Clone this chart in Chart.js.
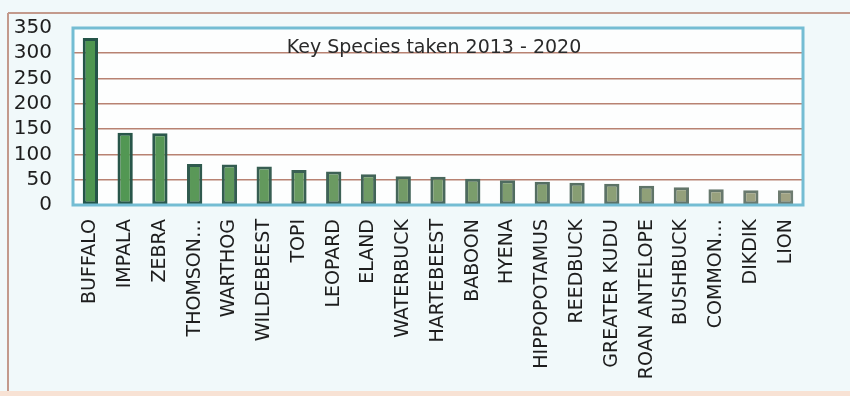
<!DOCTYPE html>
<html>
<head>
<meta charset="utf-8">
<script src="https://cdn.jsdelivr.net/npm/chart.js@4/dist/chart.umd.min.js"></script>
<style>
  html, body { margin: 0; padding: 0; background: #f1f9fa; }
  #wrap { width: 850px; height: 396px; position: relative; }
</style>
</head>
<body>
<div id="wrap"><canvas id="c" width="850" height="396"></canvas></div>
<script>
// ---- data ----
const categories = ["BUFFALO", "IMPALA", "ZEBRA", "THOMSON…", "WARTHOG", "WILDEBEEST", "TOPI",
  "LEOPARD", "ELAND", "WATERBUCK", "HARTEBEEST", "BABOON", "HYENA", "HIPPOPOTAMUS",
  "REEDBUCK", "GREATER KUDU", "ROAN ANTELOPE", "BUSHBUCK", "COMMON…", "DIKDIK", "LION"];
const taken = [330, 143, 142, 81, 80, 76, 69, 66, 61, 57, 56, 52, 49, 46, 44, 42, 38, 35, 31, 29, 29];
const yTicks = [0, 50, 100, 150, 200, 250, 300, 350];
const chartTitle = "Key Species taken 2013 - 2020";

// ---- styles ----
function mix(a, b, t) {
  const r = Math.round(a[0] + (b[0] - a[0]) * t);
  const g = Math.round(a[1] + (b[1] - a[1]) * t);
  const bl = Math.round(a[2] + (b[2] - a[2]) * t);
  return `rgb(${r},${g},${bl})`;
}
const fillL = [78, 150, 80], fillR = [160, 162, 130];
const edgeL = [36, 84, 72], edgeR = [110, 124, 112];

const decor = {
  id: 'decor',
  beforeDraw(chart) {
    const { ctx, chartArea: a } = chart;
    ctx.save();
    ctx.fillStyle = '#f1f9fa';
    ctx.fillRect(0, 0, chart.width, chart.height);
    ctx.strokeStyle = '#c39a8c';
    ctx.lineWidth = 2;
    ctx.beginPath();
    ctx.moveTo(8, 13); ctx.lineTo(850, 13);
    ctx.moveTo(8, 13); ctx.lineTo(8, 396);
    ctx.stroke();
    ctx.fillStyle = '#f8e2d4';
    ctx.fillRect(0, 391, 850, 5);
    ctx.fillStyle = '#fdfefe';
    ctx.fillRect(a.left, a.top, a.right - a.left, a.bottom - a.top);
    ctx.restore();
  },
  afterDatasetsDraw(chart) {
    const { ctx, chartArea: a } = chart;
    ctx.save();
    ctx.strokeStyle = '#74bdd3';
    ctx.lineWidth = 3;
    ctx.strokeRect(a.left, a.top, a.right - a.left, a.bottom - a.top);
    ctx.font = '19px "DejaVu Sans"';
    ctx.fillStyle = '#2a2a2a';
    ctx.textAlign = 'center';
    ctx.textBaseline = 'middle';
    ctx.fillText(chartTitle, (a.left + a.right) / 2 - 4, a.top + 20);
    ctx.restore();
  }
};

new Chart(document.getElementById('c'), {
  type: 'bar',
  data: {
    labels: categories,
    datasets: [{
      label: chartTitle,
      data: taken,
      backgroundColor: (c) => mix(fillL, fillR, c.dataIndex / (categories.length - 1)),
      borderColor: (c) => mix(edgeL, edgeR, c.dataIndex / (categories.length - 1)),
      borderWidth: 3,
      borderSkipped: false,
      barPercentage: 0.44,
      categoryPercentage: 1.0
    }]
  },
  options: {
    responsive: false,
    animation: false,
    layout: { padding: { left: 0, right: 47, top: 28, bottom: 0 } },
    plugins: { legend: { display: false }, title: { display: false }, tooltip: { enabled: false } },
    scales: {
      x: {
        grid: { display: false, drawTicks: false },
        border: { display: false },
        ticks: {
          minRotation: 90, maxRotation: 90, autoSkip: false, padding: 14,
          color: '#1e1e1e', font: { family: 'DejaVu Sans', size: 19 }
        },
        afterFit: (s) => { s.height = 191; }
      },
      y: {
        min: 0, max: 350,
        afterBuildTicks: (s) => { s.ticks = yTicks.map(v => ({ value: v })); },
        grid: {
          color: (c) => (c.tick.value === 0 || c.tick.value === 350) ? 'rgba(0,0,0,0)' : '#b88272',
          lineWidth: 1.6, drawTicks: false
        },
        border: { display: false },
        ticks: {
          autoSkip: false,
          padding: 21, color: '#1e1e1e',
          font: { family: 'DejaVu Sans', size: 20, lineHeight: 1 }
        },
        afterFit: (s) => { s.width = 73; s.paddingTop = 0; s.paddingBottom = 0; }
      }
    }
  },
  plugins: [decor]
});
</script>
</body>
</html>
